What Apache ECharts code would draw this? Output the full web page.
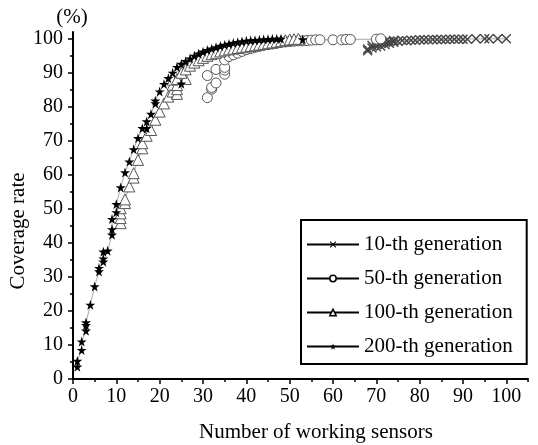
<!DOCTYPE html>
<html><head><meta charset="utf-8">
<script src="https://cdn.jsdelivr.net/npm/echarts@6.0.0/dist/echarts.min.js"></script>
<style>html,body{margin:0;padding:0;background:#fff}#c{width:538px;height:445px}</style>
</head><body><div id="c"></div>
<script>
const seriesNames = ['10-th generation', '50-th generation', '100-th generation', '200-th generation'];
const xMajorTicks = [0, 10, 20, 30, 40, 50, 60, 70, 80, 90, 100];
const xMinorTicks = [5, 15, 25, 35, 45, 55, 65, 75, 85, 95, 105];
const yMajorTicks = [0, 10, 20, 30, 40, 50, 60, 70, 80, 90, 100];
const yMinorTicks = [5, 15, 25, 35, 45, 55, 65, 75, 85, 95];

const gen10 = [[68,96.5],[69,97.3],[68,97.0],[70,97.7],[69,98.0],[71,97.9],[70,98.4],[72,98.3],[71,98.8],[73,98.7],[72,99.1],[74,99.0],[73,99.3],[75,99.3],[74,99.5],[76,99.5],[77,99.4],[78,99.6],[79,99.6],[80,99.7],[81,99.7],[82,99.7],[83,99.8],[84,99.8],[85,99.8],[86,99.8],[87,99.9],[88,99.9],[89,99.9],[90,99.9],[91,99.9],[93,100],[95,100],[96,100],[98,100],[100,100]];
const gen50 = [[31,82.7],[32,85.2],[32,85.7],[33,87],[31,89.2],[33,91],[35,89.6],[35,90.8],[35,91.6],[35,93.8],[36,94.8],[37,95.3],[38,95.8],[39,96.3],[40,96.8],[41,97.1],[42,97.5],[43,97.8],[44,98.1],[45,98.3],[46,98.5],[47,98.7],[48,99],[49,99.1],[50,99.2],[51,99.3],[52,99.4],[53,99.4],[54,99.5],[55,99.6],[56,99.7],[57,99.7],[60,99.7],[62,99.7],[63,99.8],[64,99.8],[70,99.9],[71,100]];
const gen100 = [[11,45.8],[11,47.3],[11,48.7],[11,50.2],[12,51.7],[12,52.8],[13,56.6],[14,59.2],[14,60.5],[15,64.4],[16,67.8],[16,69.3],[17,71.5],[18,73.2],[19,76.2],[20,78.6],[21,81],[22,83],[23,84.5],[24,83.8],[24,85.2],[23,86.5],[24,86.4],[23,88],[24,88.2],[26,88.2],[25,90],[26,91],[27,92.1],[28,93],[29,93.7],[30,94.4],[31,95],[32,95.5],[33,95.9],[34,96.3],[35,96.6],[36,96.9],[37,97.1],[38,97.3],[39,97.5],[40,97.7],[41,97.9],[42,98.1],[43,98.3],[44,98.5],[45,98.7],[46,98.9],[47,99.1],[48,99.3],[49,99.6],[50,99.8],[51,99.9],[52,100]];
const gen200 = [[1,3.6],[1,5.3],[2,8.5],[2,11],[3,14.2],[3,15.8],[3,16.6],[4,21.8],[5,27.2],[6,31.6],[6,32.6],[7,34.5],[7,35.4],[7,37.4],[8,37.7],[9,42.4],[9,44],[9,47],[10,49],[10,51.4],[11,56.3],[12,60.7],[13,63.9],[14,67.5],[15,70.8],[16,73.7],[17,73.7],[17,75.7],[18,77.9],[19,81],[19,81.8],[20,84.5],[21,86.7],[22,88.4],[23,90],[24,91.7],[25,86.8],[25,92.6],[26,93.4],[27,94.2],[28,95],[29,95.6],[30,96.2],[31,96.7],[32,97.1],[33,97.5],[34,97.9],[35,98.2],[36,98.5],[37,98.8],[38,99],[39,99.2],[40,99.4],[41,99.5],[42,99.6],[43,99.7],[44,99.8],[45,99.9],[46,100],[47,100],[48,100],[53,99.8]];

const FONT = "'Liberation Serif', 'Times New Roman', serif";
const STAR = 'path://M50,0 L61,35 L98,35 L68,57 L79,91 L50,70 L21,91 L32,57 L2,35 L39,35 Z';
const CROSS = 'path://M0,1 L1,0 L5,4 L9,0 L10,1 L6,5 L10,9 L9,10 L5,6 L1,10 L0,9 L4,5 Z';
const LINE = { color: '#aaa', width: 1 };
const TICK_FS = 20, TITLE_FS = 21, LEGEND_FS = 21;

const chart = echarts.init(document.getElementById('c'), null, { renderer: 'canvas' });

function majorAxis(max, ticks, position) {
  return {
    type: 'value', min: 0, max: max, position: position, splitLine: { show: false },
    axisLine: { show: true, onZero: false, lineStyle: { color: '#000', width: 2 } },
    axisTick: { show: true, inside: false, length: 5, customValues: ticks, lineStyle: { color: '#000', width: 1.5 } },
    axisLabel: { color: '#000', fontSize: TICK_FS, fontFamily: FONT, margin: position === 'left' ? 10 : 8, customValues: ticks }
  };
}
function minorAxis(max, ticks, position) {
  return {
    type: 'value', min: 0, max: max, position: position, offset: 0, splitLine: { show: false },
    axisLine: { show: false },
    axisTick: { show: true, inside: false, length: 3, customValues: ticks, lineStyle: { color: '#000', width: 1.5 } },
    axisLabel: { show: false }
  };
}

const option = {
  backgroundColor: '#fff',
  animation: false,
  grid: { left: 73, right: 10, top: 32, bottom: 66, containLabel: false, outerBoundsMode: 'none' },
  xAxis: [ majorAxis(105, xMajorTicks, 'bottom'), minorAxis(105, xMinorTicks, 'bottom') ],
  yAxis: [ majorAxis(102, yMajorTicks, 'left'), minorAxis(102, yMinorTicks, 'left') ],
  legend: {
    orient: 'vertical', left: 301, top: 220,
    padding: [14, 14, 7, 5],
    itemWidth: 52, itemHeight: 8, itemGap: 13,
    borderColor: '#000', borderWidth: 2, backgroundColor: '#fff',
    textStyle: { color: '#000', fontSize: LEGEND_FS, fontFamily: FONT, lineHeight: 21 },
    data: [
      { name: seriesNames[0], itemStyle: { color: '#000' }, lineStyle: { color: '#000', width: 2 } },
      { name: seriesNames[1], itemStyle: { color: '#fff', borderColor: '#000', borderWidth: 1.5 }, lineStyle: { color: '#000', width: 2 } },
      { name: seriesNames[2], itemStyle: { color: '#fff', borderColor: '#000', borderWidth: 1.5 }, lineStyle: { color: '#000', width: 2 } },
      { name: seriesNames[3], itemStyle: { color: '#000' }, lineStyle: { color: '#000', width: 2 } }
    ]
  },
  graphic: [
    { type: 'text', x: 72, y: 17,
      style: { text: '(%)', fontSize: TITLE_FS, fontFamily: FONT, fill: '#000', align: 'center', verticalAlign: 'middle' } },
    { type: 'text', x: 18, y: 231, rotation: Math.PI / 2,
      style: { text: 'Coverage rate', fontSize: TITLE_FS, fontFamily: FONT, fill: '#000', align: 'center', verticalAlign: 'middle' } },
    { type: 'text', x: 316, y: 432,
      style: { text: 'Number of working sensors', fontSize: TITLE_FS, fontFamily: FONT, fill: '#000', align: 'center', verticalAlign: 'middle' } }
  ],
  series: [
    { name: seriesNames[0], type: 'line', data: gen10, symbol: CROSS, symbolSize: 10, showAllSymbol: true,
      lineStyle: LINE, itemStyle: { color: '#444' } },
    { name: seriesNames[1], type: 'line', data: gen50, symbol: 'circle', symbolSize: 10, showAllSymbol: true,
      lineStyle: LINE, itemStyle: { color: '#fff', borderColor: '#555', borderWidth: 1 } },
    { name: seriesNames[2], type: 'line', data: gen100, symbol: 'triangle', symbolSize: 11, showAllSymbol: true,
      lineStyle: LINE, itemStyle: { color: '#fff', borderColor: '#555', borderWidth: 1 } },
    { name: seriesNames[3], type: 'line', data: gen200, symbol: STAR, symbolSize: 10, showAllSymbol: true,
      lineStyle: LINE, itemStyle: { color: '#000' } }
  ]
};
chart.setOption(option);
</script>
</body></html>
